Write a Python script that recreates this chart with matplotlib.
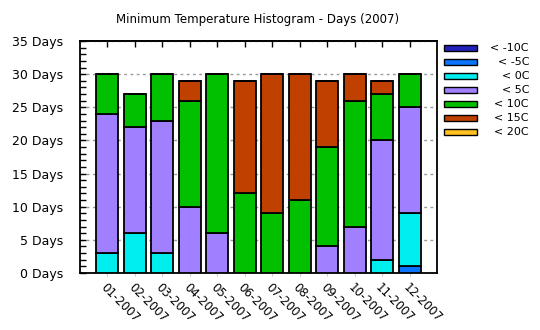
import numpy as np
import matplotlib
matplotlib.use("Agg")
import matplotlib.pyplot as plt
from matplotlib.patches import Rectangle
from matplotlib.ticker import MultipleLocator, NullLocator

# month labels
months = ['01-2007', '02-2007', '03-2007', '04-2007', '05-2007', '06-2007',
          '07-2007', '08-2007', '09-2007', '10-2007', '11-2007', '12-2007']

# days per temperature band
below_m10 = [0, 0, 0, 0, 0, 0, 0, 0, 0, 0, 0, 0]
below_m5 = [0, 0, 0, 0, 0, 0, 0, 0, 0, 0, 0, 1]
below_0 = [3, 6, 3, 0, 0, 0, 0, 0, 0, 0, 2, 8]
below_5 = [21, 16, 20, 10, 6, 0, 0, 0, 4, 7, 18, 16]
below_10 = [6, 5, 7, 16, 24, 12, 9, 11, 15, 19, 7, 5]
below_15 = [0, 0, 0, 3, 0, 17, 21, 19, 10, 4, 2, 0]
below_20 = [0, 0, 0, 0, 0, 0, 0, 0, 0, 0, 0, 0]

band_labels = ['< -10C', '< -5C', '< 0C', '< 5C', '< 10C', '< 15C', '< 20C']
band_colors = ['#2222bb', '#0a74ff', '#00eeee', '#a080ff', '#00c000', '#c04000', '#ffc020']
bands = [below_m10, below_m5, below_0, below_5, below_10, below_15, below_20]

fig = plt.figure(figsize=(5.4, 3.3), dpi=100)
ax = fig.add_axes([80 / 540, 1 - 273 / 330, 357 / 540, 232 / 330])

x = np.arange(len(months))
bottom = np.zeros(len(months))
for vals, col in zip(bands, band_colors):
    vals = np.array(vals, dtype=float)
    ax.bar(x, vals, 0.8, bottom=bottom, color=col, edgecolor='black',
           linewidth=1.3, zorder=3)
    bottom += vals

ax.set_xlim(-1, 12)
ax.set_ylim(0, 35)
ax.set_yticks(range(0, 36, 5))
ax.set_yticklabels(['%d Days' % v for v in range(0, 36, 5)], fontsize=9)
ax.yaxis.set_minor_locator(MultipleLocator(1))
ax.tick_params(axis='y', which='both', direction='in', length=4, width=1, pad=12)

ax.set_xticks(x)
ax.set_xticklabels(months, fontsize=8.5, rotation=-45, ha='left', va='top',
                   rotation_mode='anchor')
ax.xaxis.set_minor_locator(NullLocator())
ax.tick_params(axis='x', direction='out', length=2, color='#cccccc', pad=4)

# top ticks pointing inward
sec = ax.secondary_xaxis('top')
sec.set_xticks(x)
sec.set_xticklabels([])
sec.tick_params(direction='in', length=4, width=1)

ax.grid(axis='y', which='major', linestyle=(0, (2, 2.5)), color='#999999',
        linewidth=1, zorder=1)
for s in ax.spines.values():
    s.set_linewidth(1.3)
sec.spines['top'].set_linewidth(1.3)

fig.text(258 / 540, 1 - 20 / 330, 'Minimum Temperature Histogram - Days (2007)',
         ha='center', va='center', fontsize=8.5)

# legend
for i, (lab, col) in enumerate(zip(band_labels, band_colors)):
    yc = 48 + 14 * i
    fig.add_artist(Rectangle((444 / 540, 1 - (yc + 3) / 330), 33 / 540, 6 / 330,
                             facecolor=col, edgecolor='black', linewidth=1,
                             transform=fig.transFigure))
    fig.text(529 / 540, 1 - yc / 330, lab, ha='right', va='center', fontsize=8)

fig.savefig('out.png', dpi=100)
